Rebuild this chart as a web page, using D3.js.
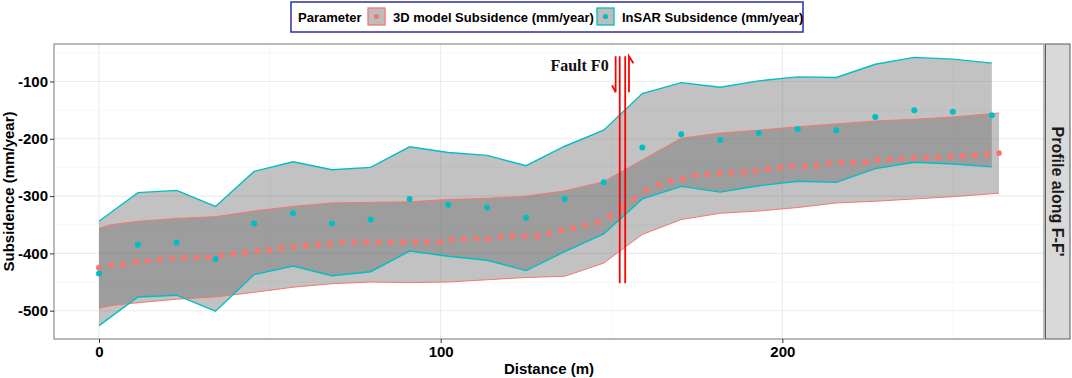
<!DOCTYPE html>
<html>
<head>
<meta charset="utf-8">
<script src="https://cdn.jsdelivr.net/npm/d3@7"></script>
<style>
  body { margin: 0; background: #fff; }
  text { font-family: "Liberation Sans", Arial, sans-serif; font-weight: bold; }
</style>
</head>
<body>
<svg id="vis" width="1072" height="378"></svg>
<script>

// 3D model profile (dots)
var modelDist = [0, 3.6, 7.1, 10.7, 14.2, 17.8, 21.4, 24.9, 28.5, 32.0, 35.6, 39.2, 42.7, 46.3, 49.8,
    53.4, 57.0, 60.5, 64.1, 67.6, 71.2, 74.8, 78.3, 81.9, 85.4, 89.0, 92.6, 96.1, 99.7, 103.2,
    106.8, 110.4, 113.9, 117.5, 121.0, 124.6, 128.2, 131.7, 135.3, 138.8, 142.4, 146.0, 149.5, 153.1, 156.6,
    160.2, 163.8, 167.3, 170.9, 174.4, 178.0, 181.6, 185.1, 188.7, 192.2, 195.8, 199.4, 202.9, 206.5, 210.0,
    213.6, 217.2, 220.7, 224.3, 227.8, 231.4, 235.0, 238.5, 242.1, 245.6, 249.2, 252.8, 256.3, 259.9, 263.4];
var modelMean = [-425, -420, -419, -415, -413, -411, -409, -408, -407, -407, -404, -401, -399, -396, -394,
    -391, -388, -386, -384, -383, -380, -380, -380, -380, -380, -380, -380, -380, -380, -376,
    -375, -374, -375, -371, -370, -370, -370, -365, -360, -356, -351, -346, -335, -320, -305,
    -290, -279, -273, -269, -264, -262, -260, -259, -258, -256, -253, -250, -248, -248, -247,
    -243, -241, -241, -240, -237, -236, -235, -234, -233, -233, -231, -230, -229, -227, -225];

// 3D model band
var modelBandDist = [0, 3.6, 11.4, 22.7, 34.1, 45.4, 56.8, 68.2, 79.5, 90.9, 102.2, 113.6, 125.0,
    136.3, 147.7, 159.0, 170.4, 181.8, 193.1, 204.5, 215.8, 227.2, 238.6, 249.9, 263.4];
var modelUpper = [-356, -350, -344, -339, -336, -326, -318, -312, -311, -310, -306, -304, -300,
    -291, -275, -237, -199, -190, -185, -179, -174, -169, -166, -162, -155];
var modelLower = [-496, -491, -486, -480, -476, -468, -459, -453, -450, -451, -450, -446, -442,
    -440, -417, -367, -341, -330, -326, -320, -312, -309, -305, -301, -295];

// InSAR profile
var insarDist = [0, 11.4, 22.7, 34.1, 45.4, 56.8, 68.2, 79.5, 90.9, 102.2, 113.6, 125.0,
    136.3, 147.7, 159.0, 170.4, 181.8, 193.1, 204.5, 215.8, 227.2, 238.6, 249.9, 261.3];
var insarMean = [-435, -385, -381, -410, -348, -330, -348, -341, -305, -315, -320, -338,
    -305, -276, -215, -192, -202, -190, -183, -185, -162, -150, -153, -159];
var insarUpper = [-344, -294, -290, -318, -257, -240, -254, -250, -214, -224, -229, -247,
    -213, -185, -121, -102, -110, -99, -92, -93, -70, -58, -61, -68];
var insarLower = [-526, -476, -473, -501, -437, -422, -439, -432, -396, -405, -412, -430,
    -397, -366, -305, -283, -293, -282, -274, -276, -252, -241, -244, -249];

var xTicks = [0, 100, 200];
var yTicks = [-500, -400, -300, -200, -100];
var legendLabels = ["3D model Subsidence (mm/year)", "InSAR Subsidence (mm/year)"];
var seriesColors = ["#F8766D", "#00BFC4"];

// fault annotation (distance of the lines, and the y reach)
var faultLines = [152.4, 154.0];
var faultArrows = [151.2, 155.1];
var faultTop = -56, faultBottom = -452, arrowEnd = -119;

var svg = d3.select("#vis");
var margin = {top: 44, right: 28, bottom: 39, left: 54};
var width = 1072 - margin.left - margin.right;
var height = 378 - margin.top - margin.bottom;

// ggplot style 5% padding on the data extent
function padded(ext){
    var pad = (ext[1] - ext[0]) * 0.05;
    return [ext[0] - pad, ext[1] + pad];
}

var allX = modelDist.concat(insarDist, modelBandDist);
var allY = modelMean.concat(insarMean, insarUpper, insarLower, modelUpper, modelLower);

var x = d3.scaleLinear().domain(padded(d3.extent(allX))).range([0, width]);
var y = d3.scaleLinear().domain(padded(d3.extent(allY))).range([height, 0]);

var g = svg.append("g")
    .attr("transform", "translate(" + margin.left + "," + margin.top + ")");

g.append("rect")
    .attr("width", width)
    .attr("height", height)
    .attr("fill", "#fff");

//minor grid
g.selectAll(".minor-x")
    .data([50, 150, 250])
    .enter().append("line")
    .attr("x1", function(d){ return x(d); })
    .attr("x2", function(d){ return x(d); })
    .attr("y1", 0).attr("y2", height)
    .attr("stroke", "#F2F2F2").attr("stroke-width", 0.6);
g.selectAll(".minor-y")
    .data([-550, -450, -350, -250, -150, -50])
    .enter().append("line")
    .attr("y1", function(d){ return y(d); })
    .attr("y2", function(d){ return y(d); })
    .attr("x1", 0).attr("x2", width)
    .attr("stroke", "#F2F2F2").attr("stroke-width", 0.6);

//major grid
g.selectAll(".major-x")
    .data(xTicks)
    .enter().append("line")
    .attr("x1", function(d){ return x(d); })
    .attr("x2", function(d){ return x(d); })
    .attr("y1", 0).attr("y2", height)
    .attr("stroke", "#EBEBEB").attr("stroke-width", 1.1);
g.selectAll(".major-y")
    .data(yTicks)
    .enter().append("line")
    .attr("y1", function(d){ return y(d); })
    .attr("y2", function(d){ return y(d); })
    .attr("x1", 0).attr("x2", width)
    .attr("stroke", "#EBEBEB").attr("stroke-width", 1.1);

var modelBand = modelBandDist.map(function(d, i){
    return {x: d, lo: modelLower[i], hi: modelUpper[i]};
});
var insarBand = insarDist.map(function(d, i){
    return {x: d, lo: insarLower[i], hi: insarUpper[i]};
});

var area = d3.area()
    .x(function(d){ return x(d.x); })
    .y0(function(d){ return y(d.lo); })
    .y1(function(d){ return y(d.hi); });
var lineHi = d3.line().x(function(d){ return x(d.x); }).y(function(d){ return y(d.hi); });
var lineLo = d3.line().x(function(d){ return x(d.x); }).y(function(d){ return y(d.lo); });

[modelBand, insarBand].forEach(function(band, k){
    g.append("path")
        .attr("d", area(band))
        .attr("fill", "#666")
        .attr("fill-opacity", 0.4);
});
[modelBand, insarBand].forEach(function(band, k){
    [lineHi, lineLo].forEach(function(ln){
        g.append("path")
            .attr("d", ln(band))
            .attr("fill", "none")
            .attr("stroke", seriesColors[k])
            .attr("stroke-width", k == 0 ? 1 : 1.4);
    });
});

g.selectAll(".model-dot")
    .data(modelDist)
    .enter().append("circle")
    .attr("cx", function(d){ return x(d); })
    .attr("cy", function(d, i){ return y(modelMean[i]); })
    .attr("r", 2.9)
    .attr("fill", seriesColors[0]);

g.selectAll(".insar-dot")
    .data(insarDist)
    .enter().append("circle")
    .attr("cx", function(d){ return x(d); })
    .attr("cy", function(d, i){ return y(insarMean[i]); })
    .attr("r", 3)
    .attr("fill", seriesColors[1]);

//fault lines and the half arrows
g.selectAll(".fault")
    .data(faultLines)
    .enter().append("line")
    .attr("x1", function(d){ return x(d); })
    .attr("x2", function(d){ return x(d); })
    .attr("y1", y(faultTop)).attr("y2", y(faultBottom))
    .attr("stroke", "#FF0000").attr("stroke-width", 1.8);

var ax0 = x(faultArrows[0]), ax1 = x(faultArrows[1]);
g.append("path")
    .attr("d", "M" + ax0 + "," + y(faultTop) + "V" + y(arrowEnd) + "l-3.5,-7")
    .attr("fill", "none").attr("stroke", "#FF0000").attr("stroke-width", 1.8);
g.append("path")
    .attr("d", "M" + ax1 + "," + y(arrowEnd) + "V" + y(faultTop) + "l4.5,7")
    .attr("fill", "none").attr("stroke", "#FF0000").attr("stroke-width", 1.8);

g.append("text")
    .attr("x", ax0 - 7)
    .attr("y", y(faultTop) + 15)
    .attr("text-anchor", "end")
    .style("font-family", "'Liberation Serif', 'Times New Roman', serif")
    .style("font-size", "16px")
    .attr("fill", "#111")
    .text("Fault F0");

g.append("rect")
    .attr("width", width)
    .attr("height", height)
    .attr("fill", "none")
    .attr("stroke", "#8C8C8C")
    .attr("stroke-width", 1.2);

//axes
var xAxis = g.append("g")
    .attr("transform", "translate(0," + height + ")")
    .call(d3.axisBottom(x).tickValues(xTicks).tickSize(4).tickPadding(3));
var yAxis = g.append("g")
    .call(d3.axisLeft(y).tickValues(yTicks).tickSize(4).tickPadding(2).tickFormat(d3.format("d")));

[xAxis, yAxis].forEach(function(a){
    a.select(".domain").remove();
    a.selectAll(".tick line").attr("stroke", "#333");
    a.selectAll(".tick text")
        .attr("fill", "#000")
        .style("font-size", "15px")
        .style("font-family", "'Liberation Sans', Arial, sans-serif")
        .style("font-weight", "bold");
});
yAxis.selectAll(".tick text").text(function(d){ return d; });

svg.append("text")
    .attr("x", margin.left + width / 2)
    .attr("y", 374)
    .attr("text-anchor", "middle")
    .style("font-size", "15px")
    .text("Distance (m)");

svg.append("text")
    .attr("transform", "translate(14," + (margin.top + height / 2) + ") rotate(-90)")
    .attr("text-anchor", "middle")
    .style("font-size", "15px")
    .text("Subsidence (mm/year)");

//facet strip on the right
svg.append("rect")
    .attr("x", margin.left + width + 1.5)
    .attr("y", margin.top)
    .attr("width", 24.5)
    .attr("height", height)
    .attr("fill", "#D9D9D9")
    .attr("stroke", "#5a5a5a")
    .attr("stroke-width", 1);
svg.append("text")
    .attr("transform", "translate(" + (margin.left + width + 8) + "," + (margin.top + height / 2) + ") rotate(90)")
    .attr("text-anchor", "middle")
    .style("font-size", "16px")
    .attr("fill", "#1a1a1a")
    .text("Profile along F-F'");

//legend
var legend = svg.append("g").attr("transform", "translate(291,2)");
legend.append("rect")
    .attr("width", 512).attr("height", 30)
    .attr("fill", "#fff")
    .attr("stroke", "#2E2E9E").attr("stroke-width", 1.5);
legend.append("text")
    .attr("x", 7).attr("y", 20)
    .style("font-size", "13px")
    .text("Parameter");

var keyX = [77, 306];
legendLabels.forEach(function(lbl, i){
    legend.append("rect")
        .attr("x", keyX[i]).attr("y", 6)
        .attr("width", 17).attr("height", 17)
        .attr("fill", "#BDBDBD")
        .attr("stroke", seriesColors[i]).attr("stroke-width", 1.3);
    legend.append("circle")
        .attr("cx", keyX[i] + 8.5).attr("cy", 14.5)
        .attr("r", 2.6)
        .attr("fill", seriesColors[i]);
    legend.append("text")
        .attr("x", keyX[i] + 25).attr("y", 20)
        .style("font-size", "13px")
        .text(lbl);
});

</script>
</body>
</html>
